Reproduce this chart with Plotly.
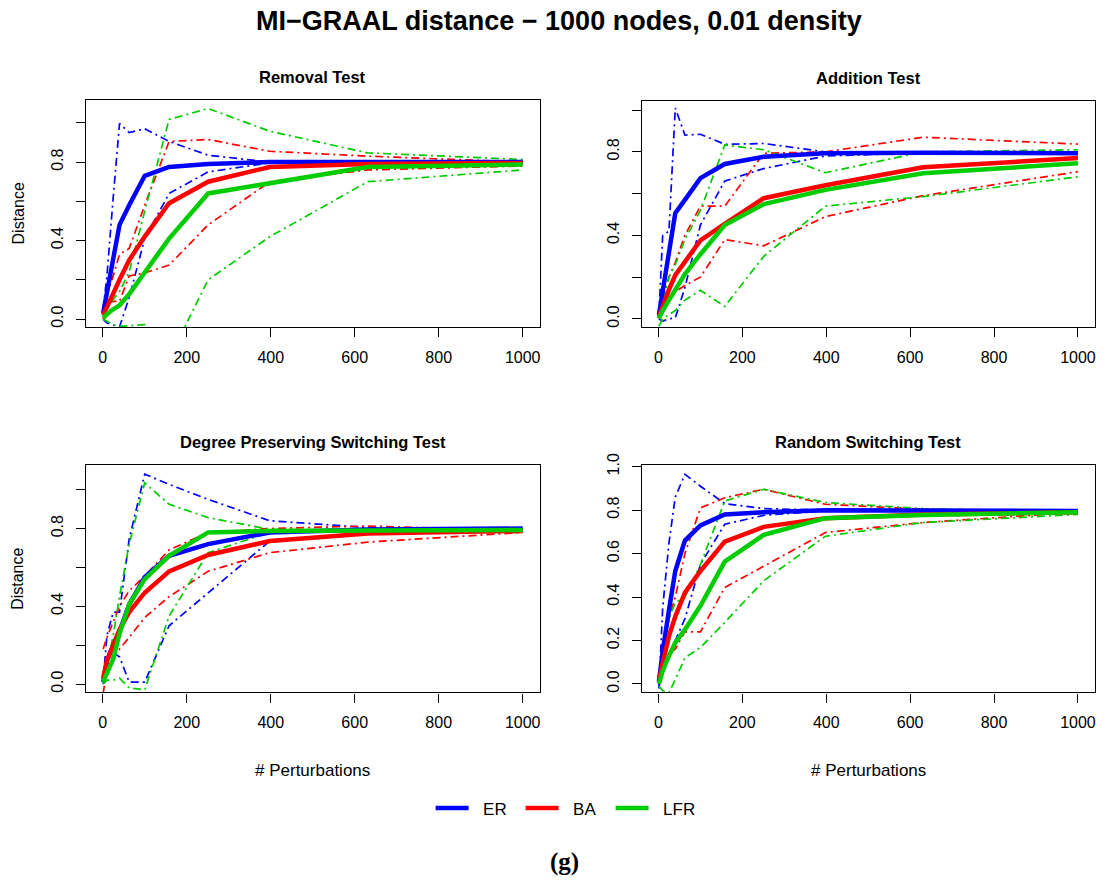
import plotly.graph_objects as go

# ---------------- data ----------------
perturbations = [1, 10, 25, 40, 63, 100, 158, 251, 398, 631, 1000]
x_ticks = [0, 200, 400, 600, 800, 1000]
y_ticks = [0.0, 0.2, 0.4, 0.6, 0.8, 1.0]
y_text_sparse = ["0.0", "", "0.4", "", "0.8", ""]
y_text_full = ["0.0", "0.2", "0.4", "0.6", "0.8", "1.0"]

panel_titles = ["Removal Test", "Addition Test",
                "Degree Preserving Switching Test", "Random Switching Test"]
models = ["ER", "BA", "LFR"]
model_colors = ["#0000FF", "#FF0000", "#00CC00"]

# Removal Test
rem_er_mean = [0.03, 0.14, 0.31, 0.48, 0.58, 0.73, 0.775, 0.79, 0.80, 0.80, 0.80]
rem_er_hi = [0.05, 0.22, 0.62, 0.997, 0.95, 0.97, 0.905, 0.835, 0.80, 0.80, 0.80]
rem_er_lo = [0.0, -0.02, -0.03, -0.04, 0.11, 0.41, 0.64, 0.75, 0.796, 0.80, 0.80]
rem_ba_mean = [0.02, 0.065, 0.13, 0.20, 0.30, 0.42, 0.59, 0.70, 0.775, 0.79, 0.795]
rem_ba_hi = [0.02, 0.12, 0.22, 0.33, 0.36, 0.58, 0.905, 0.915, 0.855, 0.83, 0.80]
rem_ba_lo = [0.0, 0.08, 0.09, 0.09, 0.22, 0.235, 0.275, 0.48, 0.70, 0.76, 0.78]
rem_lfr_mean = [0.005, 0.025, 0.05, 0.07, 0.127, 0.235, 0.41, 0.64, 0.69, 0.775, 0.787]
rem_lfr_hi = [0.01, 0.06, 0.10, 0.14, 0.24, 0.55, 1.017, 1.073, 0.957, 0.847, 0.813]
rem_lfr_lo = [0.0, -0.01, -0.03, -0.037, -0.033, -0.029, -0.20, 0.20, 0.42, 0.70, 0.76]

# Addition Test
add_er_mean = [0.02, 0.13, 0.33, 0.506, 0.57, 0.674, 0.742, 0.777, 0.793, 0.796, 0.793]
add_er_hi = [0.02, 0.40, 0.42, 1.01, 0.88, 0.884, 0.836, 0.84, 0.80, 0.795, 0.793]
add_er_lo = [0.0, -0.01, 0.0, 0.005, 0.15, 0.45, 0.66, 0.72, 0.78, 0.795, 0.795]
add_ba_mean = [0.01, 0.06, 0.14, 0.21, 0.277, 0.376, 0.455, 0.578, 0.64, 0.726, 0.77]
add_ba_hi = [0.01, 0.10, 0.20, 0.27, 0.40, 0.54, 0.54, 0.793, 0.80, 0.87, 0.837]
add_ba_lo = [0.0, 0.05, 0.10, 0.13, 0.16, 0.20, 0.38, 0.35, 0.49, 0.59, 0.705]
add_lfr_mean = [0.0, 0.04, 0.09, 0.14, 0.215, 0.31, 0.45, 0.55, 0.618, 0.697, 0.745]
add_lfr_hi = [0.01, 0.08, 0.20, 0.26, 0.38, 0.52, 0.833, 0.81, 0.70, 0.80, 0.81]
add_lfr_lo = [-0.035, 0.0, 0.02, 0.04, 0.09, 0.137, 0.06, 0.30, 0.54, 0.586, 0.68]

# Degree Preserving Switching Test
dps_er_mean = [0.01, 0.12, 0.20, 0.27, 0.41, 0.55, 0.66, 0.72, 0.78, 0.795, 0.80]
dps_er_hi = [0.01, 0.25, 0.37, 0.37, 0.745, 1.08, 1.027, 0.95, 0.84, 0.805, 0.80]
dps_er_lo = [0.0, 0.15, 0.16, 0.14, 0.01, 0.01, 0.30, 0.47, 0.736, 0.78, 0.793]
dps_ba_mean = [0.03, 0.12, 0.20, 0.28, 0.37, 0.47, 0.58, 0.664, 0.736, 0.774, 0.788]
dps_ba_hi = [0.18, 0.24, 0.32, 0.40, 0.48, 0.556, 0.69, 0.78, 0.80, 0.813, 0.788]
dps_ba_lo = [-0.05, 0.08, 0.15, 0.18, 0.24, 0.342, 0.45, 0.58, 0.676, 0.73, 0.78]
dps_lfr_mean = [0.01, 0.06, 0.13, 0.26, 0.41, 0.54, 0.66, 0.78, 0.788, 0.79, 0.793]
dps_lfr_hi = [0.01, 0.10, 0.25, 0.45, 0.72, 1.035, 0.925, 0.856, 0.796, 0.793, 0.793]
dps_lfr_lo = [0.0, 0.02, 0.02, 0.03, -0.02, -0.03, 0.35, 0.676, 0.78, 0.793, 0.793]

# Random Switching Test
rs_er_mean = [0.01, 0.15, 0.34, 0.52, 0.66, 0.73, 0.78, 0.79, 0.80, 0.80, 0.796]
rs_er_hi = [-0.02, 0.35, 0.65, 0.86, 0.965, 0.91, 0.83, 0.807, 0.80, 0.80, 0.80]
rs_er_lo = [-0.02, 0.10, 0.20, 0.20, 0.30, 0.55, 0.735, 0.776, 0.797, 0.80, 0.80]
rs_ba_mean = [0.02, 0.10, 0.22, 0.31, 0.42, 0.52, 0.655, 0.723, 0.763, 0.78, 0.79]
rs_ba_hi = [0.01, 0.15, 0.30, 0.40, 0.60, 0.81, 0.857, 0.896, 0.827, 0.804, 0.79]
rs_ba_lo = [0.0, 0.08, 0.14, 0.16, 0.24, 0.24, 0.444, 0.543, 0.697, 0.743, 0.79]
rs_lfr_mean = [0.0, 0.06, 0.13, 0.19, 0.25, 0.36, 0.563, 0.686, 0.763, 0.778, 0.79]
rs_lfr_hi = [0.01, 0.18, 0.30, 0.375, 0.40, 0.55, 0.842, 0.896, 0.835, 0.807, 0.79]
rs_lfr_lo = [-0.01, -0.03, -0.04, 0.02, 0.12, 0.168, 0.283, 0.475, 0.68, 0.743, 0.78]

panels = [
    [(rem_er_mean, rem_er_hi, rem_er_lo), (rem_ba_mean, rem_ba_hi, rem_ba_lo),
     (rem_lfr_mean, rem_lfr_hi, rem_lfr_lo)],
    [(add_er_mean, add_er_hi, add_er_lo), (add_ba_mean, add_ba_hi, add_ba_lo),
     (add_lfr_mean, add_lfr_hi, add_lfr_lo)],
    [(dps_er_mean, dps_er_hi, dps_er_lo), (dps_ba_mean, dps_ba_hi, dps_ba_lo),
     (dps_lfr_mean, dps_lfr_hi, dps_lfr_lo)],
    [(rs_er_mean, rs_er_hi, rs_er_lo), (rs_ba_mean, rs_ba_hi, rs_ba_lo),
     (rs_lfr_mean, rs_lfr_hi, rs_lfr_lo)],
]

# ---------------- layout geometry (page pixels) ----------------
W, H = 1105, 883


def vy(p):
    """page pixel (from top) -> layout pixel, compensating the observed render offset"""
    return (p - 10.2) / 0.988


def py(p):
    """page pixel (from top) -> paper fraction (from bottom)"""
    return 1 - vy(p) / H


boxes = [  # left, right, top, bottom (page px)
    (86, 540, 98, 326),
    (642.3, 1095.7, 99, 326),
    (86, 540, 464.3, 691.7),
    (642.3, 1095.7, 464.3, 691.7),
]
y_ranges = [(-0.042, 1.118), (-0.04, 1.045), (-0.043, 1.125), (-0.039, 1.006)]
x_range = (-40, 1040)

FONT = "Liberation Sans, Arial, Helvetica, sans-serif"
dash_dot = "8px,4px,2px,4px"

fig = go.Figure()
layout = dict(
    width=W, height=H, margin=dict(l=0, r=0, t=0, b=0),
    paper_bgcolor="white", plot_bgcolor="white",
    font=dict(family=FONT, size=16, color="black"),
    showlegend=True,
)

for i, (series, box, yr) in enumerate(zip(panels, boxes, y_ranges)):
    n = "" if i == 0 else str(i + 1)
    xa, ya = "x" + n, "y" + n
    l, r, t, b = box
    common = dict(showgrid=False, zeroline=False, showline=True, mirror=True,
                  linecolor="black", linewidth=1.3, ticks="outside", ticklen=9,
                  tickwidth=1.3, tickcolor="black", ticklabelstandoff=6,
                  tickfont=dict(family=FONT, size=16, color="black"))
    layout["xaxis" + n] = dict(common, domain=[l / W, r / W], range=list(x_range),
                               tickmode="array", tickvals=x_ticks,
                               ticktext=[str(v) for v in x_ticks], anchor=ya)
    layout["yaxis" + n] = dict(common, domain=[py(b), py(t)], range=list(yr),
                               tickmode="array", tickvals=y_ticks,
                               ticktext=y_text_full if i == 3 else y_text_sparse,
                               tickangle=-90, anchor=xa)
    # bounds (dash-dot) first, then means (thick solid)
    for (mean, hi, lo), name, col in zip(series, models, model_colors):
        for bound in (hi, lo):
            fig.add_trace(go.Scatter(x=perturbations, y=bound, mode="lines",
                                     line=dict(color=col, width=1.7, dash=dash_dot),
                                     xaxis=xa, yaxis=ya, showlegend=False,
                                     legendgroup=name, hoverinfo="skip"))
    for (mean, hi, lo), name, col in zip(series, models, model_colors):
        fig.add_trace(go.Scatter(x=perturbations, y=mean, mode="lines",
                                 name="\u00a0\u00a0" + name,
                                 line=dict(color=col, width=4.5),
                                 xaxis=xa, yaxis=ya, showlegend=(i == 0),
                                 legendgroup=name))

annotations = []
annotations.append(dict(text="<b>MI\u2212GRAAL distance \u2212 1000 nodes, 0.01 density</b>",
                        x=560 / W, y=py(19), xref="paper", yref="paper",
                        xanchor="center", yanchor="middle", showarrow=False,
                        font=dict(family=FONT, size=27, color="black")))
for title, box in zip(panel_titles, boxes):
    l, r, t, b = box
    annotations.append(dict(text="<b>" + title + "</b>", x=(l + r) / 2 / W,
                            y=py(t - 23), xref="paper", yref="paper",
                            xanchor="center", yanchor="middle", showarrow=False,
                            font=dict(family=FONT, size=16.5, color="black")))
for box in (boxes[0], boxes[2]):
    l, r, t, b = box
    annotations.append(dict(text="Distance", x=18 / W, y=py((t + b) / 2),
                            xref="paper", yref="paper", xanchor="center",
                            yanchor="middle", textangle=-90, showarrow=False,
                            font=dict(family=FONT, size=16, color="black")))
for box in (boxes[2], boxes[3]):
    l, r, t, b = box
    annotations.append(dict(text="# Perturbations", x=(l + r) / 2 / W, y=py(770),
                            xref="paper", yref="paper", xanchor="center",
                            yanchor="middle", showarrow=False,
                            font=dict(family=FONT, size=17, color="black")))
annotations.append(dict(text="<b>(g)</b>", x=565 / W, y=py(862),
                        xref="paper", yref="paper", xanchor="center",
                        yanchor="middle", showarrow=False,
                        font=dict(family="Liberation Serif, Times New Roman, serif",
                                  size=25, color="black")))

layout["annotations"] = annotations
layout["legend"] = dict(orientation="h", x=431 / W, y=py(808), xanchor="left",
                        yanchor="middle", font=dict(family=FONT, size=17, color="black"),
                        bgcolor="rgba(0,0,0,0)", itemwidth=33, entrywidth=42,
                        tracegroupgap=0)

fig.update_layout(**layout)
fig.write_html("out.html")
